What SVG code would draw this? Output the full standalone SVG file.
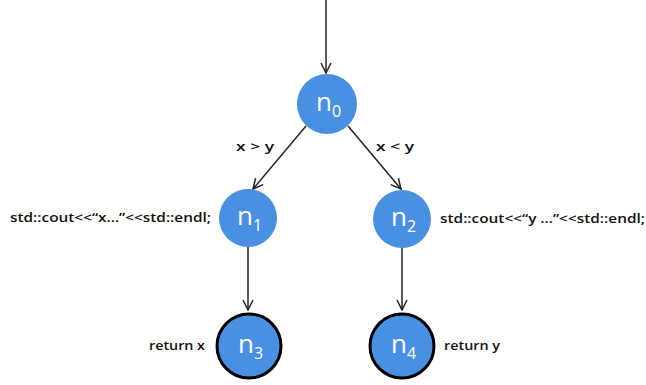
<svg xmlns="http://www.w3.org/2000/svg" width="646" height="385" viewBox="0 0 646 385">
  <style>
    .node { fill: #4a90e2; }
    .final { fill: #4a90e2; stroke: #000; stroke-width: 3; }
    .nlabel { fill: #fff; font-family: "Open Sans", "DejaVu Sans", sans-serif; font-size: 26px; }
    .sub { font-size: 16px; }
    .edge { stroke: #222; stroke-width: 1.5; fill: none; marker-end: url(#arrow); }
    .txt { fill: #111; font-family: "Open Sans", "Liberation Sans", sans-serif; font-size: 12px; font-weight: 600; }
  </style>
  <defs>
    <marker id="arrow" viewBox="0 0 12 12" refX="11" refY="6" markerWidth="12" markerHeight="12" markerUnits="userSpaceOnUse" orient="auto">
      <path d="M1,1 L11,6 L1,11" fill="none" stroke="#222" stroke-width="1.5"/>
    </marker>
  </defs>
  <rect width="646" height="385" fill="#fff"/>

  <g id="edges">
    <line class="edge" x1="326" y1="0" x2="326" y2="73"/>
    <line class="edge" x1="306" y1="126" x2="253" y2="189"/>
    <line class="edge" x1="348" y1="126" x2="401" y2="189"/>
    <line class="edge" x1="248" y1="247" x2="248" y2="310"/>
    <line class="edge" x1="402" y1="248" x2="402" y2="310"/>
    <text class="txt" x="236" y="151" textLength="38" lengthAdjust="spacingAndGlyphs">x &gt; y</text>
    <text class="txt" x="376" y="151" textLength="38" lengthAdjust="spacingAndGlyphs">x &lt; y</text>
  </g>

  <g id="n0">
    <circle class="node" cx="327" cy="104" r="30"/>
    <text class="nlabel" x="316" y="111">n<tspan class="sub" dy="6">0</tspan></text>
  </g>
  <g id="n1">
    <circle class="node" cx="248" cy="218" r="29"/>
    <text class="nlabel" x="237" y="225">n<tspan class="sub" dy="6">1</tspan></text>
    <text class="txt" x="10" y="222" textLength="201" lengthAdjust="spacingAndGlyphs">std::cout&lt;&lt;“x...”&lt;&lt;std::endl;</text>
  </g>
  <g id="n2">
    <circle class="node" cx="402" cy="219" r="29"/>
    <text class="nlabel" x="391" y="226">n<tspan class="sub" dy="6">2</tspan></text>
    <text class="txt" x="440" y="223" textLength="205" lengthAdjust="spacingAndGlyphs">std::cout&lt;&lt;“y ...”&lt;&lt;std::endl;</text>
  </g>
  <g id="n3">
    <circle class="final" cx="249" cy="346" r="32"/>
    <text class="nlabel" x="238" y="353">n<tspan class="sub" dy="6">3</tspan></text>
    <text class="txt" x="149" y="350" textLength="56" lengthAdjust="spacingAndGlyphs">return x</text>
  </g>
  <g id="n4">
    <circle class="final" cx="402" cy="346" r="32"/>
    <text class="nlabel" x="391" y="353">n<tspan class="sub" dy="6">4</tspan></text>
    <text class="txt" x="444" y="350" textLength="56" lengthAdjust="spacingAndGlyphs">return y</text>
  </g>
</svg>
